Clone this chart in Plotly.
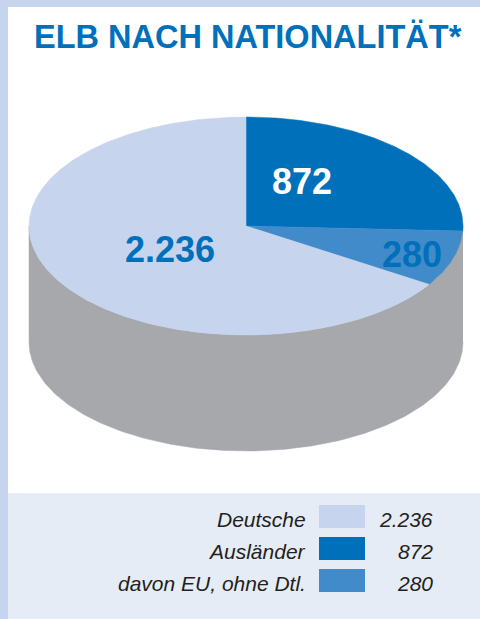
import numpy as np
import plotly.graph_objects as go

# ---- data ----
categories = ["Deutsche", "Ausländer", "davon EU, ohne Dtl."]
values = [2236, 872, 280]
value_labels = ["2.236", "872", "280"]
colors = ["#C6D4ED", "#0070BA", "#428BCA"]
title_text = "ELB NACH NATIONALITÄT*"

# ---- geometry (pixel space) ----
W, H = 480, 619
cx, cy = 246, 226        # centre of the top ellipse
rx, ry = 217, 109        # radii of the top ellipse
depth = 116              # thickness of the 3D cake
side_color = "#A7A8AC"
# clockwise order from 12 o'clock
pie_order = [1, 2, 0]

def ell(theta_deg, dy=0.0):
    t = np.radians(theta_deg)
    return cx + rx * np.sin(t), cy - ry * np.cos(t) + dy

fig = go.Figure()

# side wall (visible lower half)
ang = np.linspace(90, 270, 200)
tx, ty = ell(ang)
bx, by = ell(ang[::-1], depth)
sx = np.concatenate([tx, bx])
sy = np.concatenate([ty, by])
fig.add_trace(go.Scatter(x=sx, y=sy, mode="lines", fill="toself",
                         fillcolor=side_color, line=dict(width=0.5, color=side_color),
                         hoverinfo="skip", showlegend=False))

# top slices
total = sum(values)
start = 0.0
mids = {}
for idx in pie_order:
    span = values[idx] / total * 360.0
    a = np.linspace(start, start + span, max(int(span * 2), 4))
    ax_, ay_ = ell(a)
    px = np.concatenate([[cx], ax_, [cx]])
    py = np.concatenate([[cy], ay_, [cy]])
    fig.add_trace(go.Scatter(x=px, y=py, mode="lines", fill="toself",
                             fillcolor=colors[idx], line=dict(width=0.5, color=colors[idx]),
                             hoverinfo="skip", showlegend=False))
    mids[idx] = start + span / 2
    start += span

# value labels on the slices (label anchor: angle override + radial fraction)
label_place = {0: (None, 0.40), 1: (31, 0.50), 2: (None, 0.80)}
label_colors = {0: "#0070BA", 1: "#FFFFFF", 2: "#0070BA"}
annotations = []
for idx in range(len(values)):
    angle, frac = label_place[idx]
    if angle is None:
        angle = mids[idx]
    t = np.radians(angle)
    lx = cx + frac * rx * np.sin(t)
    ly = cy - frac * ry * np.cos(t)
    annotations.append(dict(x=lx, y=ly + 2, xref="x", yref="y", text=value_labels[idx],
                            showarrow=False, xanchor="center", yanchor="middle",
                            font=dict(family="Liberation Sans, Arial", size=36,
                                      color=label_colors[idx], weight="bold")))

# title
annotations.append(dict(x=247.5, y=37, xref="x", yref="y", text=title_text,
                        showarrow=False, xanchor="center", yanchor="middle",
                        font=dict(family="Liberation Sans, Arial", size=32.5,
                                  color="#0070BA", weight="bold")))

shapes = [
    dict(type="rect", xref="x", yref="y", x0=0, x1=W, y0=0, y1=7,
         fillcolor="#C6D4ED", line=dict(width=0), layer="below"),
    dict(type="rect", xref="x", yref="y", x0=0, x1=8, y0=0, y1=H,
         fillcolor="#C6D4ED", line=dict(width=0), layer="below"),
    dict(type="rect", xref="x", yref="y", x0=8, x1=W, y0=493, y1=H,
         fillcolor="#E6ECF6", line=dict(width=0), layer="below"),
]

# legend table
row0, row_step = 516.5, 32
for i, cat in enumerate(categories):
    yc = row0 + i * row_step
    shapes.append(dict(type="rect", xref="x", yref="y", x0=319, x1=365,
                       y0=yc - 11.5, y1=yc + 11.5, fillcolor=colors[i],
                       line=dict(width=0)))
    annotations.append(dict(x=308, y=yc + 3, xref="x", yref="y", text=cat,
                            showarrow=False, xanchor="right", yanchor="middle",
                            font=dict(family="Liberation Sans, Arial", size=21,
                                      color="#231F20", style="italic")))
    annotations.append(dict(x=435, y=yc + 3, xref="x", yref="y", text=value_labels[i],
                            showarrow=False, xanchor="right", yanchor="middle",
                            font=dict(family="Liberation Sans, Arial", size=21,
                                      color="#231F20", style="italic")))

fig.update_layout(
    width=W, height=H,
    margin=dict(l=0, r=0, t=0, b=0),
    paper_bgcolor="white", plot_bgcolor="white",
    xaxis=dict(range=[0, W], visible=False, fixedrange=True),
    yaxis=dict(range=[H, 0], visible=False, fixedrange=True),
    shapes=shapes, annotations=annotations,
    showlegend=False,
)

fig.write_html("out.html", config={"displayModeBar": False},
               post_script="document.body.style.margin='0';")
